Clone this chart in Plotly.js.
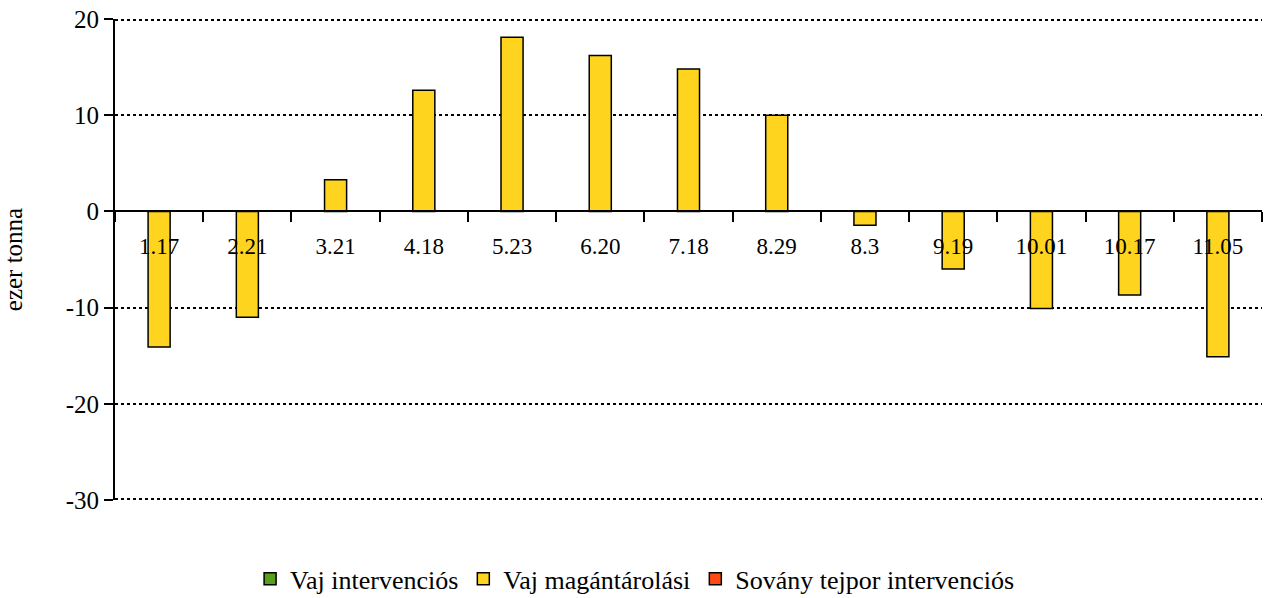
<!DOCTYPE html>
<html>
<head>
<meta charset="utf-8">
<script src="https://cdn.plot.ly/plotly-3.0.1.min.js"></script>
<style>html,body{margin:0;padding:0;background:#fff;}#chart{width:1269px;height:598px;}</style>
</head>
<body>
<div id="chart"></div>
<script>
const categories = ["1.17","2.21","3.21","4.18","5.23","6.20","7.18","8.29","8.3","9.19","10.01","10.17","11.05"];
const vajIntervencios = [null,null,null,null,null,null,null,null,null,null,null,null,null];
const vajMagantarolasi = [-14.1,-11.0,3.3,12.6,18.1,16.2,14.8,10.0,-1.45,-6.0,-10.1,-8.7,-15.1];
const sovanyTejpor = [null,null,null,null,null,null,null,null,null,null,null,null,null];
const seriesNames = ["Vaj intervenciós","Vaj magántárolási","Sovány tejpor intervenciós"];
const seriesColors = ["#56a01c","#ffd41f","#ff4a12"];
const yTicks = [-30,-20,-10,0,10,20];
const yRange = [-30, 20];

const data = [vajIntervencios, vajMagantarolasi, sovanyTejpor].map((vals, i) => ({
  type: "bar",
  x: categories,
  y: vals,
  name: seriesNames[i],
  marker: {color: seriesColors[i], line: {color: "#000", width: 1.5}},
  hoverinfo: "none"
}));

const FONT = "'Liberation Serif', 'Times New Roman', Times, serif";

// gridlines at the range ends (Plotly omits them there); half is clipped, so double width
const edgeGrid = yRange.map(v => ({
  type: "line", xref: "paper", x0: 0, x1: 1, yref: "y", y0: v, y1: v,
  line: {color: "#000", width: 4, dash: "3px,3px"}, layer: "below"
}));

const layout = {
  width: 1269, height: 598,
  margin: {l: 115, r: 7, t: 19, b: 98, autoexpand: false},
  paper_bgcolor: "#fff", plot_bgcolor: "#fff",
  font: {family: FONT, color: "#000", size: 24},
  barmode: "group", bargap: 0.25, bargroupgap: 0,
  showlegend: true,
  legend: {orientation: "h", x: 0.453, xanchor: "center", y: -0.115, yanchor: "top",
           font: {family: FONT, size: 26}, itemclick: false, traceorder: "normal", itemwidth: 20},
  shapes: edgeGrid,
  xaxis: {
    type: "category", anchor: "free", position: 0.6,
    showline: true, linecolor: "#000", linewidth: 2,
    ticks: "outside", ticklen: 10, tickwidth: 2, tickcolor: "#000",
    tickson: "boundaries", showgrid: false, zeroline: false,
    tickfont: {family: FONT, size: 23}, ticklabelstandoff: 14
  },
  yaxis: {
    range: yRange, tickvals: yTicks, ticktext: yTicks.map(String),
    showline: true, linecolor: "#000", linewidth: 2,
    ticks: "outside", ticklen: 9, tickwidth: 2, tickcolor: "#000",
    showgrid: true, gridcolor: "#000", griddash: "3px,3px", gridwidth: 2,
    zeroline: false, tickfont: {family: FONT, size: 25},
    title: {text: "ezer tonna", font: {family: FONT, size: 25}, standoff: 36}
  }
};

Plotly.newPlot("chart", data, layout, {staticPlot: true});
</script>
</body>
</html>
